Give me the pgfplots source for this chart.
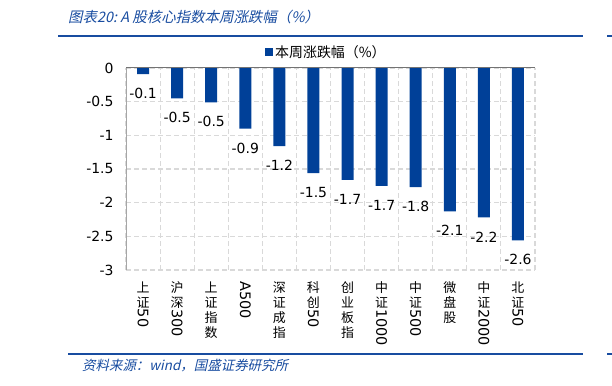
\documentclass[border=0pt]{standalone}
\usepackage{pgfplots}
\pgfplotsset{compat=1.18}
\usepackage{fontspec}
\setmainfont{DejaVu Sans}
\newfontfamily\cjk{Noto Sans CJK SC}
\newfontfamily\cjkit[FakeSlant=0.22]{Noto Sans CJK SC}
\definecolor{barblue}{RGB}{0,64,152}
\definecolor{lineblue}{RGB}{24,76,160}
\definecolor{gridgray}{RGB}{217,217,217}
\newcommand\R[1]{\raisebox{\depth}{\rotatebox{-90}{\rmfamily\fontsize{14.5}{16}\selectfont #1}}}
\begin{document}
\begin{tikzpicture}
\useasboundingbox (0,0) rectangle (612bp,386bp);
% header / footer
\node[anchor=west, inner sep=0, text=lineblue, font=\cjkit\fontsize{14.5}{16}\selectfont] at (68bp,369bp) {图表20:\ A 股核心指数本周涨跌幅（\%）};
\draw[lineblue, line width=2bp] (58bp,350.3bp) -- (583bp,350.3bp);
\draw[lineblue, line width=2bp] (607bp,350.3bp) -- (612bp,350.3bp);
\draw[lineblue, line width=2bp] (68bp,31.5bp) -- (583bp,31.5bp);
\draw[lineblue, line width=2bp] (607bp,31.5bp) -- (612bp,31.5bp);
\node[anchor=west, inner sep=0, text=lineblue, font=\cjkit\fontsize{13.5}{16}\selectfont] at (82bp,20bp) {资料来源：wind，国盛证券研究所};
\begin{axis}[
  at={(126bp,116bp)}, anchor=south west,
  scale only axis, width=409bp, height=202bp,
  xmin=-0.5, xmax=11.5, ymin=-3, ymax=0,
  axis line style={draw=none},
  ytick={-3,-2.5,-2,-1.5,-1,-0.5,0},
  yticklabels={-3,-2.5,-2,-1.5,-1,-0.5,0},
  yticklabel style={font=\fontsize{14}{16}\selectfont, xshift=-9bp},
  major tick length=0pt, minor tick length=0pt,
  xtick={0,...,11},
  minor xtick={-0.5,0.5,...,11.5},
  xticklabels={
    {上\\证\\\R{50}},
    {沪\\深\\\R{300}},
    {上\\证\\指\\数},
    {\R{A500}},
    {深\\证\\成\\指},
    {科\\创\\\R{50}},
    {创\\业\\板\\指},
    {中\\证\\\R{1000}},
    {中\\证\\\R{500}},
    {微\\盘\\股},
    {中\\证\\\R{2000}},
    {北\\证\\\R{50}}},
  xticklabel style={anchor=north, align=center, yshift=-8bp, font=\cjk\fontsize{13}{15}\selectfont},
  ymajorgrids, xminorgrids,
  major grid style={gridgray, dashed, dash pattern=on 5bp off 3bp, line width=1.1bp},
  minor grid style={gridgray, dashed, dash pattern=on 5bp off 3bp, line width=1.1bp},
  legend style={at={(0.49,1.0)}, anchor=south, draw=none, fill=none, yshift=7bp,
    font=\cjk\fontsize{14}{16}\selectfont, inner sep=0pt},
  legend image code/.code={\fill[barblue] (0bp,-4bp) rectangle (8bp,4bp);},
  clip=false,
]
\addplot[ybar, bar width=12bp, fill=barblue, draw=none,
  point meta=explicit symbolic,
  nodes near coords={\pgfplotspointmeta},
  every node near coord/.append style={anchor=north, inner sep=0pt, yshift=-14bp, font=\fontsize{14}{16}\selectfont, text=black}]
coordinates {
(0,-0.09) [-0.1]
(1,-0.45) [-0.5]
(2,-0.51) [-0.5]
(3,-0.90) [-0.9]
(4,-1.16) [-1.2]
(5,-1.56) [-1.5]
(6,-1.66) [-1.7]
(7,-1.75) [-1.7]
(8,-1.77) [-1.8]
(9,-2.13) [-2.1]
(10,-2.22) [-2.2]
(11,-2.56) [-2.6]
};
\addlegendentry{本周涨跌幅（\%）}
\draw[gray!70, line width=1bp] (rel axis cs:0,0) -- (rel axis cs:0,1);
\draw[gray!90!black, line width=1bp] (rel axis cs:0,1) -- (rel axis cs:1,1);
\end{axis}
\end{tikzpicture}
\end{document}
